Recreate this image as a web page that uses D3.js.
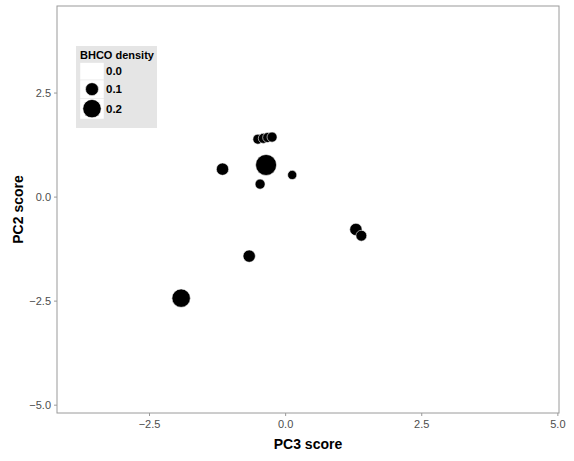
<!DOCTYPE html>
<html>
<head>
<meta charset="utf-8">
<script src="https://cdn.jsdelivr.net/npm/d3@7"></script>
<style>
  body { margin: 0; background: #fff; }
  svg { display: block; font-family: "Liberation Sans", Arial, sans-serif; }
</style>
</head>
<body>
<div id="chart"></div>
<script>
// PC scores and BHCO density per site
const pc3 = [-0.50, -0.40, -0.32, -0.24, -0.35, -1.15, -0.46, 0.13, -0.66, -1.91, 1.30, 1.40];
const pc2 = [1.38, 1.40, 1.42, 1.43, 0.76, 0.66, 0.30, 0.52, -1.43, -2.44, -0.79, -0.94];
const density = [0.06, 0.06, 0.06, 0.06, 0.26, 0.09, 0.06, 0.05, 0.09, 0.20, 0.09, 0.07];

const xTicks = [-2.5, 0.0, 2.5, 5.0];
const yTicks = [-5.0, -2.5, 0.0, 2.5];
const legendValues = [0.0, 0.1, 0.2];

const width = 574, height = 461;
const margin = {top: 6, right: 15, bottom: 48, left: 57};

const svg = d3.select("#chart").append("svg")
  .attr("width", width)
  .attr("height", height);

const x = d3.scaleLinear()
  .domain([-4.19, 5.03])
  .range([margin.left, width - margin.right]);
const y = d3.scaleLinear()
  .domain([-5.2, 4.58])
  .range([height - margin.bottom, margin.top]);
const r = d3.scaleSqrt()
  .domain([0, 0.2])
  .range([0, 9.2]);

// panel
svg.append("rect")
  .attr("x", margin.left)
  .attr("y", margin.top)
  .attr("width", width - margin.left - margin.right)
  .attr("height", height - margin.top - margin.bottom)
  .attr("fill", "#fff")
  .attr("stroke", "#9a9a9a")
  .attr("stroke-width", 1);

// axes
const xAxis = svg.append("g")
  .attr("transform", "translate(0," + (height - margin.bottom) + ")")
  .call(d3.axisBottom(x).tickValues(xTicks).tickFormat(d3.format(".1f")).tickSize(3).tickPadding(4));
const yAxis = svg.append("g")
  .attr("transform", "translate(" + margin.left + ",0)")
  .call(d3.axisLeft(y).tickValues(yTicks).tickFormat(d3.format(".1f")).tickSize(3).tickPadding(3));

[xAxis, yAxis].forEach(function(g) {
  g.select(".domain").remove();
  g.selectAll(".tick line").attr("stroke", "#9a9a9a");
  g.selectAll(".tick text")
    .attr("fill", "#4d4d4d")
    .style("font-size", "11px")
    .style("font-family", "'Liberation Sans', Arial, sans-serif");
});

// points
const data = pc3.map(function(d, i) { return {x: d, y: pc2[i], v: density[i]}; });
svg.append("g")
  .selectAll("circle")
  .data(data)
  .enter()
  .append("circle")
    .attr("cx", function(d) { return x(d.x); })
    .attr("cy", function(d) { return y(d.y); })
    .attr("r", function(d) { return r(d.v); })
    .attr("fill", "#000")
    .attr("stroke", "#fff")
    .attr("stroke-width", 0.6);

// axis titles
svg.append("text")
  .attr("x", (margin.left + width - margin.right) / 2)
  .attr("y", 449)
  .attr("text-anchor", "middle")
  .style("font-size", "14px")
  .style("font-weight", "bold")
  .text("PC3 score");
svg.append("text")
  .attr("transform", "translate(23," + ((margin.top + height - margin.bottom) / 2) + ") rotate(-90)")
  .attr("text-anchor", "middle")
  .style("font-size", "14px")
  .style("font-weight", "bold")
  .text("PC2 score");

// legend
const legend = svg.append("g").attr("transform", "translate(76,46)");
legend.append("rect")
  .attr("width", 81)
  .attr("height", 82)
  .attr("fill", "#e5e5e5");
legend.append("text")
  .attr("x", 4)
  .attr("y", 13)
  .style("font-size", "11px")
  .style("font-weight", "bold")
  .text("BHCO density");

const keyH = [17.3, 18.3, 20.7];
let ky = 16.7;
legendValues.forEach(function(v, i) {
  const g = legend.append("g").attr("transform", "translate(4," + ky + ")");
  g.append("rect")
    .attr("width", 24)
    .attr("height", keyH[i])
    .attr("fill", "#fff")
    .attr("stroke", "#e5e5e5")
    .attr("stroke-width", 0.5);
  if (v > 0) {
    g.append("circle")
      .attr("cx", 12)
      .attr("cy", keyH[i] / 2)
      .attr("r", r(v))
      .attr("fill", "#000")
      .attr("stroke", "#fff")
      .attr("stroke-width", 0.6);
  }
  g.append("text")
    .attr("x", 26)
    .attr("y", keyH[i] / 2 + 4)
    .style("font-size", "11.5px")
    .style("font-weight", "bold")
    .text(d3.format(".1f")(v));
  ky += keyH[i];
});
</script>
</body>
</html>
